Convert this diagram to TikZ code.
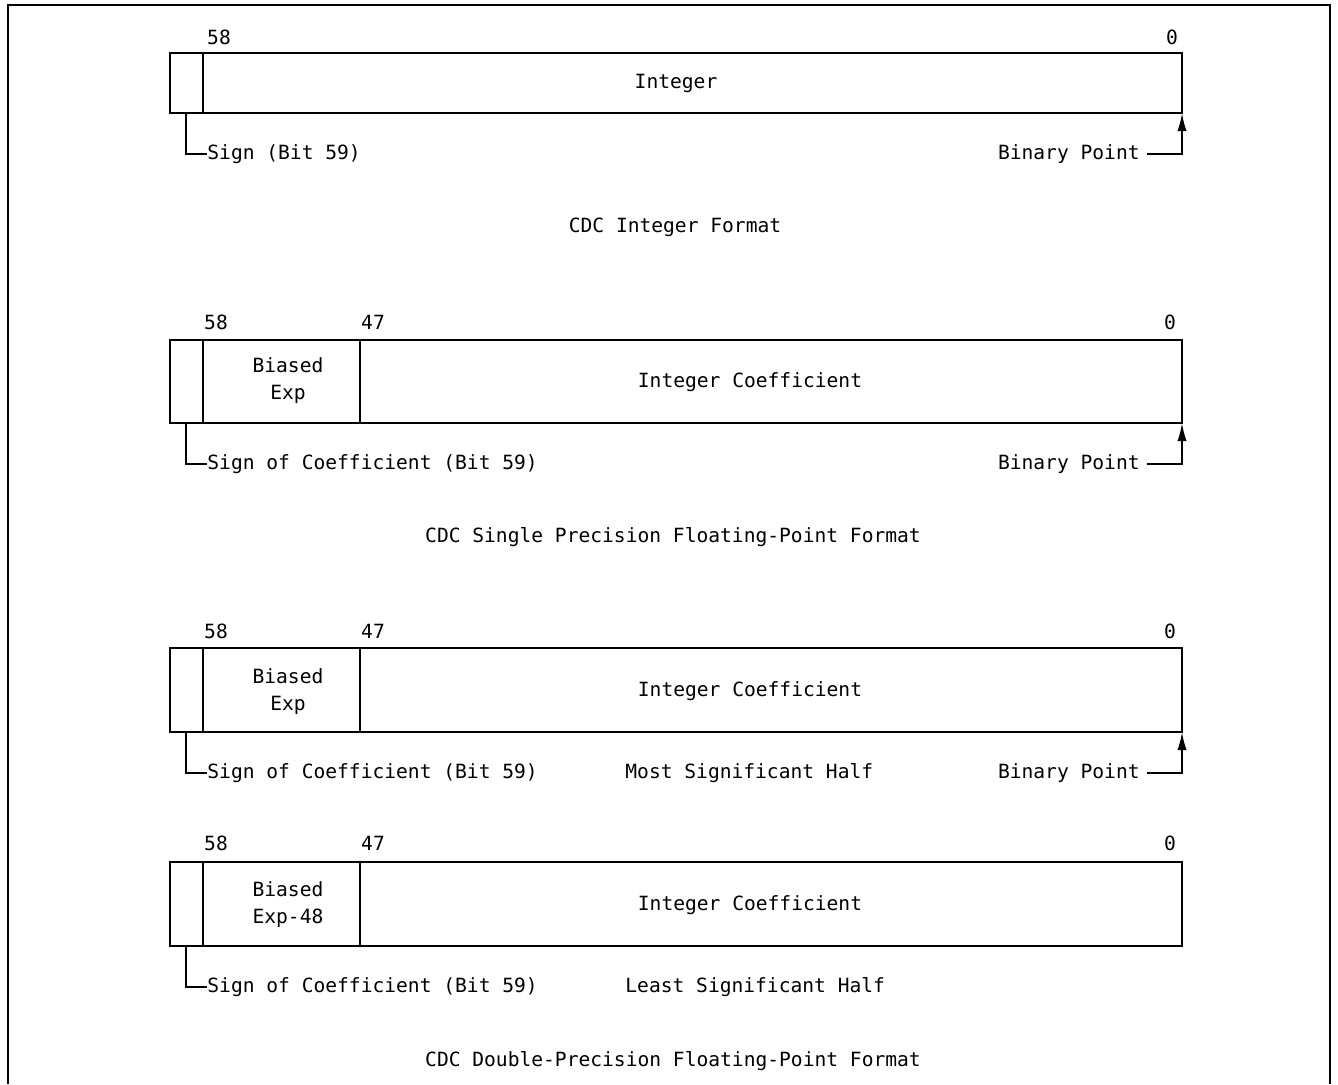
\documentclass[tikz,border=0pt]{standalone}
\usepackage{fontspec}
\setmonofont{DejaVu Sans Mono}
\usetikzlibrary{arrows.meta}
\tikzset{
  word/.style={line width=1.4pt},
  lbl/.style={inner sep=0pt, font=\ttfamily\fontsize{9.8}{13.5}\selectfont},
  lead/.style={line width=0.9pt},
  ptr/.style={line width=0.9pt, -{Latex[length=9pt,width=4.6pt]}},
}
\begin{document}
\begin{tikzpicture}[x=0.5pt, y=-0.5pt, line join=miter]
\useasboundingbox (0,0) rectangle (1338,1084);
\draw[line width=0.9pt] (8,1084) -- (8,5) -- (1330,5) -- (1330,1084);

% integer format
\draw[word] (170,53) rectangle (1182,113);
\draw[word] (203,53) -- (203,113);
\node[lbl] (hiA) at (219,37) {58};
\node[lbl] (loA) at (1172,37) {0};
\node[lbl] (intA) at (676,83) {Integer};
\node[lbl, anchor=west] (sgnA) at (207,154) {Sign (Bit 59)};
\node[lbl, anchor=east] (bpA) at (1140,154) {Binary Point};
\coordinate (sA) at (186,113);
\coordinate (rA) at (1182,113);
\draw[lead] (sA) |- (sgnA.west);
\draw[ptr] ([xshift=3.5pt]bpA.east) -| (rA);
\node[lbl] (capA) at (675,227) {CDC Integer Format};

% single precision
\draw[word] (170,340) rectangle (1182,423);
\draw[word] (203,340) -- (203,423);
\draw[word] (360,340) -- (360,423);
\node[lbl] (hiB) at (216,322) {58};
\node[lbl] (midB) at (373,322) {47};
\node[lbl] (loB) at (1170,322) {0};
\node[lbl, align=center] (expB) at (288,381) {Biased\\Exp};
\node[lbl] (coefB) at (750,382) {Integer Coefficient};
\node[lbl, anchor=west] (sgnB) at (207,464) {Sign of Coefficient (Bit 59)};
\node[lbl, anchor=east] (bpB) at (1140,464) {Binary Point};
\coordinate (sB) at (186,423);
\coordinate (rB) at (1182,423);
\draw[lead] (sB) |- (sgnB.west);
\draw[ptr] ([xshift=3.5pt]bpB.east) -| (rB);
\node[lbl] (capB) at (673,537) {CDC Single Precision Floating-Point Format};

% double precision, upper word
\draw[word] (170,648) rectangle (1182,732);
\draw[word] (203,648) -- (203,732);
\draw[word] (360,648) -- (360,732);
\node[lbl] (hiC) at (216,631) {58};
\node[lbl] (midC) at (373,631) {47};
\node[lbl] (loC) at (1170,631) {0};
\node[lbl, align=center] (expC) at (288,692) {Biased\\Exp};
\node[lbl] (coefC) at (750,691) {Integer Coefficient};
\node[lbl, anchor=west] (sgnC) at (207,773) {Sign of Coefficient (Bit 59)};
\node[lbl, anchor=west] (halfC) at (625,773) {Most Significant Half};
\node[lbl, anchor=east] (bpC) at (1140,773) {Binary Point};
\coordinate (sC) at (186,732);
\coordinate (rC) at (1182,732);
\draw[lead] (sC) |- (sgnC.west);
\draw[ptr] ([xshift=3.5pt]bpC.east) -| (rC);

% double precision, lower word
\draw[word] (170,862) rectangle (1182,946);
\draw[word] (203,862) -- (203,946);
\draw[word] (360,862) -- (360,946);
\node[lbl] (hiD) at (216,843) {58};
\node[lbl] (midD) at (373,843) {47};
\node[lbl] (loD) at (1170,843) {0};
\node[lbl, align=center] (expD) at (288,905) {Biased\\Exp-48};
\node[lbl] (coefD) at (750,905) {Integer Coefficient};
\node[lbl, anchor=west] (sgnD) at (207,987) {Sign of Coefficient (Bit 59)};
\node[lbl, anchor=west] (halfD) at (625,987) {Least Significant Half};
\coordinate (sD) at (186,946);
\draw[lead] (sD) |- (sgnD.west);
\node[lbl] (capD) at (673,1061) {CDC Double-Precision Floating-Point Format};
\end{tikzpicture}
\end{document}
